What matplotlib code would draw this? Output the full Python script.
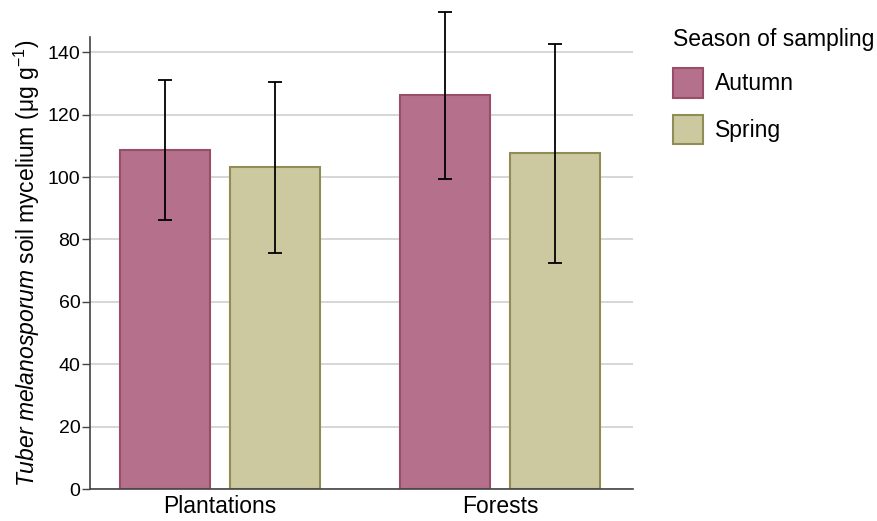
import matplotlib
matplotlib.use("Agg")
import matplotlib.pyplot as plt
import numpy as np
from matplotlib.patches import Patch

plt.rcParams['font.family'] = ['Liberation Sans', 'DejaVu Sans']
plt.rcParams['mathtext.fontset'] = 'custom'
plt.rcParams['mathtext.rm'] = 'Liberation Sans'
plt.rcParams['mathtext.it'] = 'Liberation Sans:italic'

# Mean soil mycelium and standard deviation per habitat and season
habitats = ["Plantations", "Forests"]
seasons = ["Autumn", "Spring"]
autumn_mean = [108.6, 126.2]
autumn_err = [22.4, 26.8]
spring_mean = [103.1, 107.6]
spring_err = [27.4, 35.1]

fill_colors = {"Autumn": "#b5708c", "Spring": "#ccc8a0"}
edge_colors = {"Autumn": "#9a4d66", "Spring": "#8f8c55"}

fig = plt.figure(figsize=(8.78, 5.21), dpi=100)
ax = fig.add_axes([0.1025, 0.0614, 0.6185, 0.867])

x = np.arange(len(habitats))
width = 0.32
offset = 0.197

for vals, errs, season, sgn in [(autumn_mean, autumn_err, "Autumn", -1),
                                 (spring_mean, spring_err, "Spring", 1)]:
    ax.bar(x + sgn * offset, vals, width, color=fill_colors[season],
           edgecolor=edge_colors[season], linewidth=1.5, zorder=2)
    ax.errorbar(x + sgn * offset, vals, yerr=errs, fmt="none", ecolor="black",
                elinewidth=1.3, capsize=5, capthick=1.3, zorder=3, clip_on=False)

ax.set_xlim(-0.464, 1.475)
ax.set_ylim(0, 144.8)
ax.set_yticks(np.arange(0, 141, 20))
ax.set_xticks(x)
ax.set_xticklabels(habitats, fontsize=16.5)
ax.tick_params(axis='x', length=0, pad=4)
ax.tick_params(axis='y', labelsize=14, length=6, width=1, color="#444444", pad=1)
ax.yaxis.grid(True, color="#d0d0d0", linewidth=1.2, zorder=0)
ax.set_axisbelow(True)
for s in ["top", "right"]:
    ax.spines[s].set_visible(False)
for s in ["left", "bottom"]:
    ax.spines[s].set_color("#444444")
    ax.spines[s].set_linewidth(1.2)

ax.set_ylabel(r"$\it{Tuber\ melanosporum}$ soil mycelium (μg g$^{-1}$)", fontsize=16.5, labelpad=4)

handles = [Patch(facecolor=fill_colors[s], edgecolor=edge_colors[s], linewidth=1.5, label=s)
           for s in seasons]
leg = fig.legend(handles=handles, title="Season of sampling", loc="upper left",
                 bbox_to_anchor=(0.756, 0.964), frameon=False, fontsize=16.5,
                 title_fontsize=16.5, handlelength=1.3, handleheight=1.6,
                 labelspacing=0.75, handletextpad=0.55, borderaxespad=0)
leg._legend_box.align = "left"

fig.savefig("out.png", dpi=100)
